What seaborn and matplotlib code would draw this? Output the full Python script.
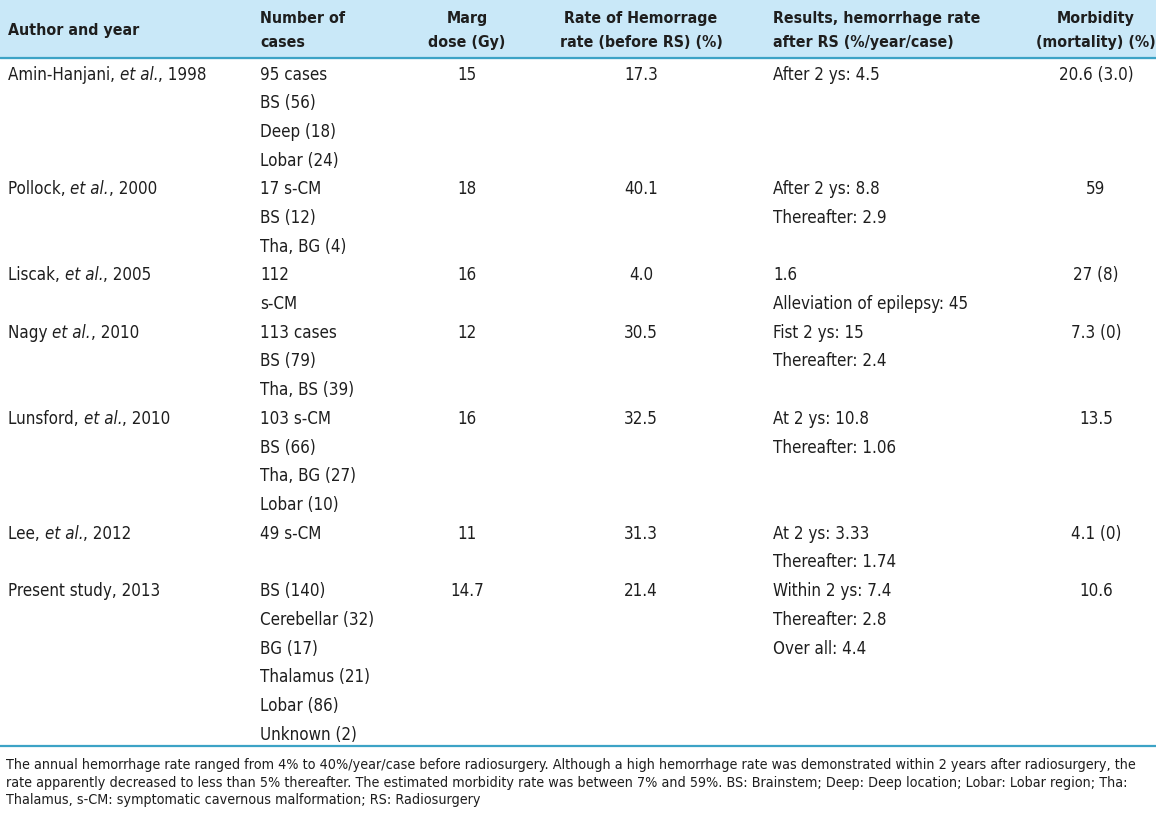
import os
import matplotlib
matplotlib.use("Agg")
import matplotlib.pyplot as plt
import matplotlib.font_manager as fm
import seaborn as sns

# ---------------- data ----------------
headers = [
    "Author and year",
    "Number of\ncases",
    "Marg\ndose (Gy)",
    "Rate of Hemorrage\nrate (before RS) (%)",
    "Results, hemorrhage rate\nafter RS (%/year/case)",
    "Morbidity\n(mortality) (%)",
]
author_names = ["Amin-Hanjani, ", "Pollock, ", "Liscak, ", "Nagy ", "Lunsford, ", "Lee, ", "Present study, 2013"]
author_italic = ["et al.", "et al.", "et al.", "et al.", "et al.", "et al.", ""]
author_years = [", 1998", ", 2000", ", 2005", ", 2010", ", 2010", ", 2012", ""]
cases = [
    ["95 cases", "BS (56)", "Deep (18)", "Lobar (24)"],
    ["17 s-CM", "BS (12)", "Tha, BG (4)"],
    ["112", "s-CM"],
    ["113 cases", "BS (79)", "Tha, BS (39)"],
    ["103 s-CM", "BS (66)", "Tha, BG (27)", "Lobar (10)"],
    ["49 s-CM"],
    ["BS (140)", "Cerebellar (32)", "BG (17)", "Thalamus (21)", "Lobar (86)", "Unknown (2)"],
]
marg_dose = ["15", "18", "16", "12", "16", "11", "14.7"]
rate_before = ["17.3", "40.1", "4.0", "30.5", "32.5", "31.3", "21.4"]
results = [
    ["After 2 ys: 4.5"],
    ["After 2 ys: 8.8", "Thereafter: 2.9"],
    ["1.6", "Alleviation of epilepsy: 45"],
    ["Fist 2 ys: 15", "Thereafter: 2.4"],
    ["At 2 ys: 10.8", "Thereafter: 1.06"],
    ["At 2 ys: 3.33", "Thereafter: 1.74"],
    ["Within 2 ys: 7.4", "Thereafter: 2.8", "Over all: 4.4"],
]
morbidity = ["20.6 (3.0)", "59", "27 (8)", "7.3 (0)", "13.5", "4.1 (0)", "10.6"]
footnote = ("The annual hemorrhage rate ranged from 4% to 40%/year/case before radiosurgery. Although a high hemorrhage rate was demonstrated within 2 years after radiosurgery, the\n"
            "rate apparently decreased to less than 5% thereafter. The estimated morbidity rate was between 7% and 59%. BS: Brainstem; Deep: Deep location; Lobar: Lobar region; Tha:\n"
            "Thalamus, s-CM: symptomatic cavernous malformation; RS: Radiosurgery")

# ---------------- style ----------------
sns.set_theme(style="white")
plt.rcParams["font.family"] = ["Liberation Sans", "DejaVu Sans"]

# look for a narrow / condensed face (the reference uses a condensed grotesque)
files = fm.findSystemFonts() + [f.fname for f in fm.fontManager.ttflist]
def find(keys):
    for k in keys:
        for f in files:
            if os.path.basename(f).lower() == k.lower():
                return f
    return None

reg_f = find(["LiberationSansNarrow-Regular.ttf", "DejaVuSansCondensed.ttf"])
bold_f = find(["LiberationSansNarrow-Bold.ttf", "DejaVuSansCondensed-Bold.ttf"])
ital_f = find(["LiberationSansNarrow-Italic.ttf", "DejaVuSansCondensed-Oblique.ttf"])

if reg_f and bold_f:
    F_REG = fm.FontProperties(fname=reg_f)
    F_BOLD = fm.FontProperties(fname=bold_f)
    F_IT = fm.FontProperties(fname=ital_f) if ital_f else fm.FontProperties(fname=reg_f)
    hsize, bsize, fsize = 12.5, 13.2, 11.3
    if "DejaVu" in reg_f:
        hsize, bsize, fsize = 11.4, 12.2, 10.3
else:
    F_REG = fm.FontProperties(family=["Liberation Sans", "DejaVu Sans"])
    F_BOLD = fm.FontProperties(family=["Liberation Sans", "DejaVu Sans"], weight="bold")
    F_IT = fm.FontProperties(family=["Liberation Sans", "DejaVu Sans"], style="italic")
    hsize, bsize, fsize = 11.2, 12.4, 9.6

def fp(base, size):
    p = base.copy()
    p.set_size(size)
    return p

W, H = 1156, 814
fig = plt.figure(figsize=(W / 100, H / 100), dpi=100)
ax = fig.add_axes([0, 0, 1, 1])
ax.set_xlim(0, W)
ax.set_ylim(H, 0)
ax.axis("off")

HEAD_BG = "#c9e8f8"
LINE_C = "#3ca3c6"
TXT = "#1e1e1e"

# header band & rules
ax.axhspan(0, 57.5, color=HEAD_BG, zorder=0)
ax.axhline(57.5, color=LINE_C, lw=1.6)
ax.axhline(746, color=LINE_C, lw=1.6)

col_x = [8, 260, 467, 641, 773, 1096]
col_ha = ["left", "left", "center", "center", "left", "center"]

for hx, ha, htxt in zip(col_x, col_ha, headers):
    ax.text(hx, 30.5, htxt, ha=ha, va="center", fontproperties=fp(F_BOLD, hsize),
            color=TXT, linespacing=1.82, multialignment="center" if ha == "center" else "left")

y0 = 74.5
pitch = 28.7
line = 0
R = fp(F_REG, bsize)
for i in range(len(author_names)):
    y = y0 + line * pitch
    t = ax.text(col_x[0], y, author_names[i], ha="left", va="center", fontproperties=R, color=TXT)
    if author_italic[i]:
        t2 = ax.annotate(author_italic[i], xy=(1, 0), xycoords=t, ha="left", va="bottom",
                         fontproperties=fp(F_IT, bsize), color=TXT)
        ax.annotate(author_years[i], xy=(1, 0), xycoords=t2, ha="left", va="bottom",
                    fontproperties=R, color=TXT)
    for k, c in enumerate(cases[i]):
        ax.text(col_x[1], y + k * pitch, c, ha="left", va="center", fontproperties=R, color=TXT)
    ax.text(col_x[2], y, marg_dose[i], ha="center", va="center", fontproperties=R, color=TXT)
    ax.text(col_x[3], y, rate_before[i], ha="center", va="center", fontproperties=R, color=TXT)
    for k, r in enumerate(results[i]):
        ax.text(col_x[4], y + k * pitch, r, ha="left", va="center", fontproperties=R, color=TXT)
    ax.text(col_x[5], y, morbidity[i], ha="center", va="center", fontproperties=R, color=TXT)
    line += max(len(cases[i]), len(results[i]))

ax.text(6, 782.5, footnote, ha="left", va="center", fontproperties=fp(F_REG, fsize),
        color=TXT, linespacing=1.3)

fig.savefig("out.png", dpi=100, facecolor="white")
